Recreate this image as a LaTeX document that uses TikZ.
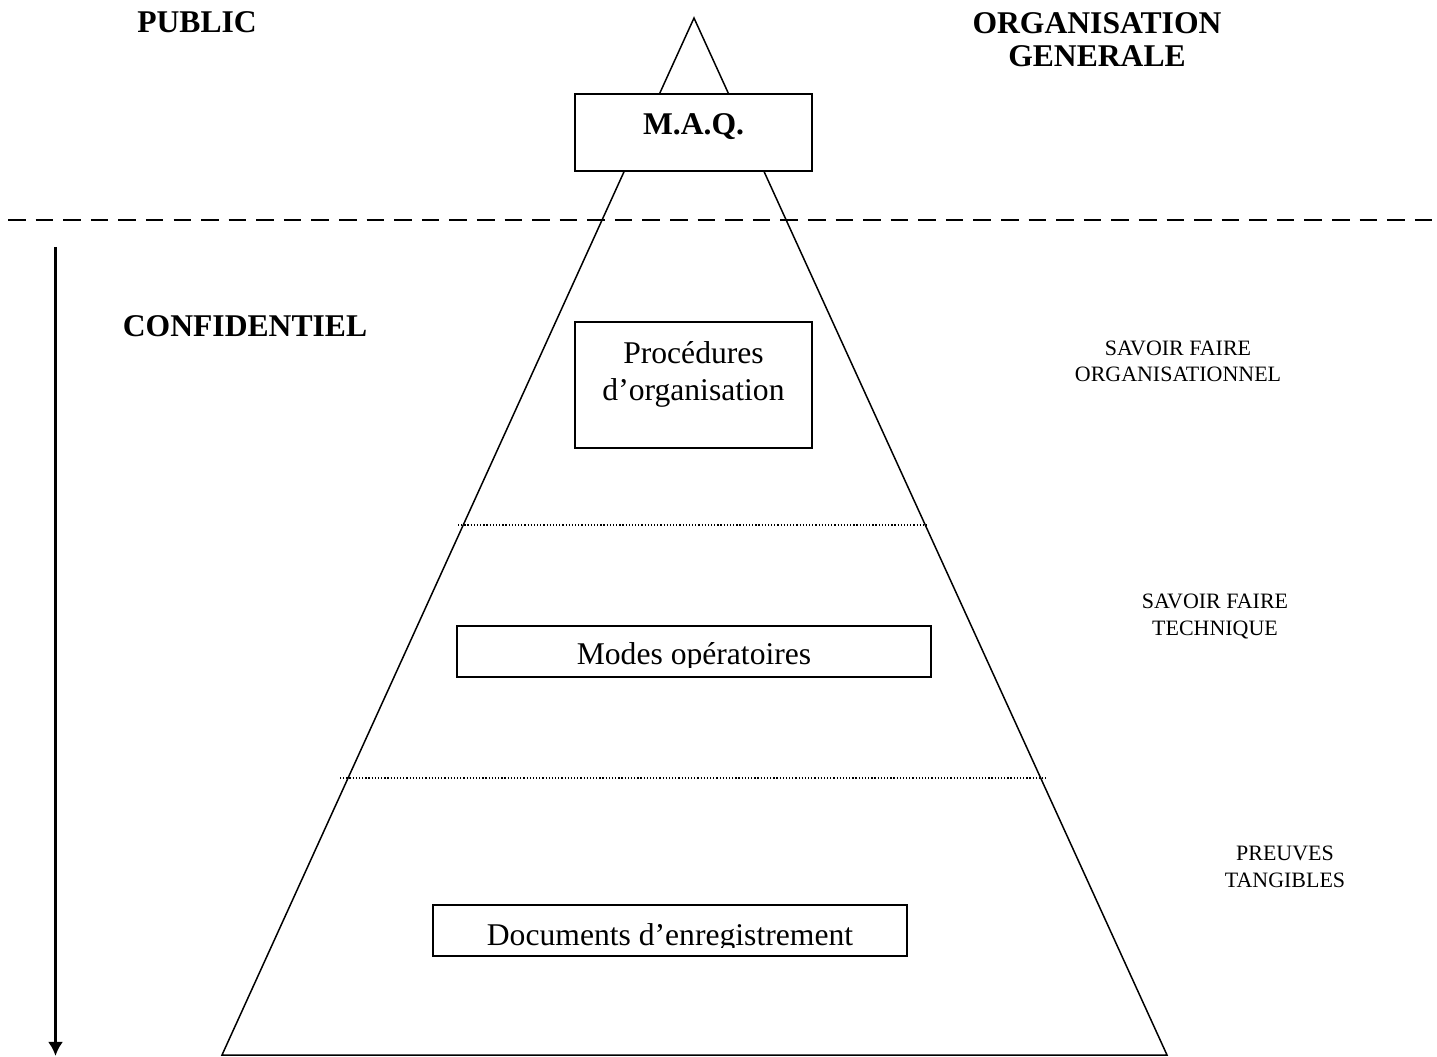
\documentclass[tikz,border=0pt]{standalone}
\usepackage{fontspec}
\setmainfont{Liberation Serif}
\usetikzlibrary{arrows.meta}

\begin{document}
\begin{tikzpicture}[x=0.02cm,y=-0.02cm]
\tikzstyle{boite}=[draw,fill=white,line width=.8pt,inner sep=0pt]
\tikzstyle{titre}=[font=\bfseries\fontsize{18}{19.3}\selectfont,align=center,anchor=base]
\tikzstyle{texte}=[font=\fontsize{18}{21.5}\selectfont,align=center,anchor=base]
\tikzstyle{niveau}=[font=\fontsize{12.5}{15.3}\selectfont,align=center,anchor=base]
\tikzstyle{pointille}=[line width=.7pt,dash pattern=on .7pt off 1.1pt]
    \useasboundingbox (0,0) rectangle (1437,1057);
    % pyramide
    \coordinate (sommet) at (694,18);
    \coordinate (baseG) at (222,1055);
    \coordinate (baseD) at (1167,1055);
    \draw[line width=.85pt] (sommet) -- (baseG) -- (baseD) -- cycle;
    % limite public / confidentiel
    \draw[line width=1.1pt,dash pattern=on 10pt off 5.7pt] (8,220) -- (1437,220);
    \draw[pointille] (458,525) -- (928,525);
    \draw[pointille] (340,778) -- (1048,778);
    % boites
    \node[boite,minimum width=4.74cm,minimum height=1.54cm] (maq) at (693.5,132.5) {};
    \node[titre] (maq-t) at (693.5,135) {M.A.Q.};
    \node[boite,minimum width=4.74cm,minimum height=2.52cm] (proc) at (693.5,385) {};
    \node[texte] (proc-t) at (693.5,401) {Procédures\\d’organisation};
    \node[boite,minimum width=9.48cm,minimum height=1.02cm] (modes) at (694,651.5) {};
    \begin{scope}
      \clip (modes.north west) rectangle (931,667);
      \node[texte] (modes-t) at (694,664) {Modes opératoires};
    \end{scope}
    \node[boite,minimum width=9.48cm,minimum height=1.02cm] (docs) at (670,930.5) {};
    \begin{scope}
      \clip (docs.north west) rectangle (907,947.5);
      \node[texte] (docs-t) at (670,945) {Documents d’enregistrement};
    \end{scope}
    % fleche
    \coordinate (haut) at (55.5,247);
    \coordinate (bas) at (55.5,1056);
    \draw[line width=1.5pt,-{Latex[length=8pt,width=8.5pt]}] (haut) -- (bas);
    % titres
    \node[titre] (public) at (197,33) {PUBLIC};
    \node[titre] (orga) at (1097,67) {ORGANISATION\\GENERALE};
    \node[titre] (confid) at (245,337) {CONFIDENTIEL};
    \node[niveau] (sf-orga) at (1178,382) {SAVOIR FAIRE\\ORGANISATIONNEL};
    \node[niveau] (sf-tech) at (1215,635) {SAVOIR FAIRE\\TECHNIQUE};
    \node[niveau] (preuves) at (1285,887) {PREUVES\\TANGIBLES};
\end{tikzpicture}
\end{document}
